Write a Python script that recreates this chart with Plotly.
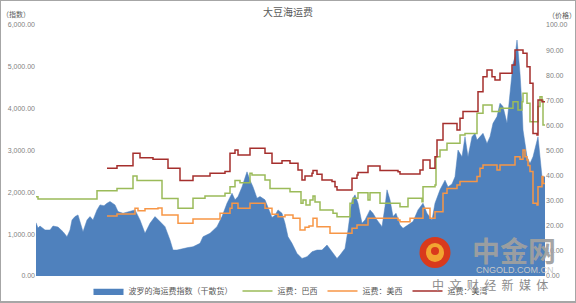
import plotly.graph_objects as go

# ---- data (x = period index) ----
bdi_x = [0, 2, 4, 9, 14, 17, 22, 27, 31, 34, 36, 39, 42, 46, 47, 51, 54, 57, 61, 64, 68, 71, 74, 79, 82, 87,
         94, 99, 104, 109, 114, 119, 124, 129, 134, 137, 141, 147, 152, 157, 164, 167, 174, 181, 186, 191, 194,
         196, 199, 202, 206, 209, 211, 214, 217, 221, 224, 229, 232, 236, 239, 242, 246, 249, 252, 256, 261,
         266, 271, 276, 281, 286, 291, 296, 301, 304, 309, 312, 316, 319, 322, 326, 329, 334, 337, 341, 346,
         349, 351, 354, 357, 360, 364, 367, 372, 377, 382, 387, 391, 396, 399, 404, 409, 412, 416, 419, 422,
         426, 429, 432, 436, 439, 441, 444, 447, 451, 454, 457, 461, 464, 467, 471, 474, 477, 479, 481, 482,
         484, 486, 487, 491, 494, 497, 501, 502, 504, 506, 509]
bdi_y = [1274, 1147, 1195, 1100, 1100, 1195, 1170, 1060, 940, 1100, 1340, 1420, 1460, 1180, 1060, 1340, 1420,
         1340, 1580, 1700, 1680, 1740, 1780, 1700, 1540, 1500, 1540, 1580, 1340, 1020, 1260, 1420, 1300, 1180,
         860, 620, 620, 660, 680, 700, 780, 940, 1020, 1180, 1420, 1740, 1900, 1980, 1820, 1900, 2130, 2370,
         2490, 2290, 2130, 1860, 1900, 1820, 1640, 1400, 1450, 1580, 1500, 1260, 940, 780, 540, 420, 460, 580,
         620, 620, 740, 580, 420, 500, 660, 1100, 1820, 1940, 1740, 1260, 1340, 1580, 1500, 1340, 1180, 1660,
         2060, 1820, 1420, 1500, 1220, 1140, 1220, 1300, 1580, 1740, 1500, 1340, 1740, 2060, 2290, 2130, 2200,
         2370, 3010, 2850, 3330, 2850, 3330, 3410, 3250, 3330, 3410, 3170, 3330, 3650, 3810, 4130, 4050, 3650,
         4290, 5080, 5240, 5640, 5400, 4840, 4050, 3490, 2850, 2690, 2850, 3250, 3330, 2850, 2370, 2370]

brazil_x = [0, 2, 61, 81, 97, 101, 126, 142, 157, 169, 189, 194, 199, 204, 214, 216, 229, 234, 254, 265, 267,
            270, 274, 277, 279, 284, 297, 301, 314, 317, 322, 332, 334, 344, 364, 372, 386, 387, 399, 400, 404,
            411, 424, 429, 441, 447, 456, 464, 477, 482, 486, 487, 491, 494, 502, 504, 506, 507, 509]
brazil_y = [31.6, 30.7, 34.0, 34.9, 39.8, 38.0, 30.9, 27.0, 31.0, 31.9, 33.0, 35.6, 38.0, 37.2, 40.9, 40.2,
            38.2, 34.9, 33.6, 29.0, 30.3, 28.3, 30.3, 31.9, 29.5, 26.3, 25.0, 23.6, 29.0, 31.0, 33.2, 30.3, 33.2,
            29.0, 27.6, 31.0, 29.6, 35.6, 36.3, 47.5, 50.2, 52.9, 56.2, 56.8, 64.8, 68.1, 65.5, 66.8, 69.4, 66.1,
            69.4, 72.8, 68.8, 61.5, 67.5, 71.4, 70.0, 60.2, 60.2]

uswest_x = [71, 81, 99, 102, 109, 122, 126, 142, 157, 184, 194, 196, 202, 214, 229, 236, 242, 249, 257, 264,
            269, 273, 277, 281, 294, 316, 321, 332, 362, 364, 374, 387, 394, 399, 407, 411, 421, 424, 441, 444,
            447, 461, 464, 479, 484, 487, 489, 491, 492, 494, 497, 501, 502, 506, 507, 509]
uswest_y = [23.9, 24.7, 27.0, 26.0, 26.8, 27.1, 24.3, 21.0, 22.7, 25.0, 27.0, 29.0, 27.0, 29.0, 27.0, 24.6,
            23.6, 24.3, 23.0, 18.3, 19.4, 19.9, 23.0, 19.6, 17.0, 19.0, 20.3, 23.0, 22.3, 21.6, 23.0, 27.0, 23.0,
            25.6, 33.0, 34.9, 36.3, 37.6, 39.6, 42.9, 44.2, 42.2, 44.2, 47.5, 46.5, 50.2, 47.5, 46.2, 44.0, 41.6,
            29.0, 28.3, 35.6, 39.6, 36.9, 36.9]

usgulf_x = [71, 81, 97, 104, 117, 132, 144, 157, 174, 189, 194, 199, 202, 214, 229, 236, 246, 254, 262, 266,
            269, 276, 277, 281, 286, 296, 299, 301, 316, 321, 322, 332, 344, 362, 364, 384, 387, 394, 399, 401,
            407, 421, 424, 427, 442, 447, 451, 456, 459, 464, 476, 479, 487, 491, 494, 497, 501, 502, 506, 509]
usgulf_y = [42.9, 43.9, 48.9, 47.1, 46.5, 42.9, 38.0, 39.8, 40.9, 41.6, 48.9, 50.2, 48.2, 50.9, 48.9, 44.9,
            45.9, 44.9, 42.2, 38.2, 39.8, 40.9, 42.0, 40.5, 38.2, 37.6, 35.6, 34.3, 38.9, 40.2, 41.2, 43.8, 42.0,
            41.5, 40.6, 42.2, 46.2, 42.9, 47.5, 54.2, 60.8, 58.2, 62.8, 65.5, 73.4, 79.4, 82.1, 79.4, 78.1, 80.8,
            84.1, 90.0, 88.7, 83.4, 76.8, 56.8, 56.2, 70.1, 69.4, 69.4]

names = ["波罗的海运费指数（干散货）", "运费：巴西", "运费：美西", "运费：美湾"]
left_ticks = [0, 1000, 2000, 3000, 4000, 5000, 6000]
right_ticks = [0, 10, 20, 30, 40, 50, 60, 70, 80, 90, 100]

CJK = "Noto Sans CJK SC"
GRAY = "#7F7F7F"

fig = go.Figure()
fig.add_trace(go.Scatter(x=bdi_x, y=bdi_y, name=names[0], mode="lines", fill="tozeroy",
                         line=dict(color="#4F81BD", width=0.5), fillcolor="#4F81BD", yaxis="y"))
fig.add_trace(go.Scatter(x=brazil_x, y=brazil_y, name=names[1], mode="lines", line_shape="hv",
                         line=dict(color="#9BBB59", width=1.5), yaxis="y2"))
fig.add_trace(go.Scatter(x=uswest_x, y=uswest_y, name=names[2], mode="lines", line_shape="hv",
                         line=dict(color="#F79646", width=1.5), yaxis="y2"))
fig.add_trace(go.Scatter(x=usgulf_x, y=usgulf_y, name=names[3], mode="lines", line_shape="hv",
                         line=dict(color="#A52F2D", width=1.5), yaxis="y2"))

W, H = 576, 303
ml, mr, mt, mb = 36, 31, 25, 27
pw, ph = W - ml - mr, H - mt - mb

def px(xp):
    return (xp - ml) / pw

def py(yp):
    return (H - mb - yp) / ph

fig.update_layout(
    width=W, height=H, margin=dict(l=ml, r=mr, t=mt, b=mb, autoexpand=False),
    paper_bgcolor="white", plot_bgcolor="white",
    showlegend=True,
    title=dict(text="大豆海运费", x=0.5, xanchor="center", y=1 - 12 / H, yanchor="middle",
               font=dict(family=CJK, size=10, color="#595959")),
    xaxis=dict(range=[0, 509], showticklabels=False, showgrid=False, zeroline=False, showline=False),
    yaxis=dict(range=[0, 6000], tickvals=left_ticks, tickformat=",.2f", showgrid=False, zeroline=False,
               showline=False, ticks="", tickfont=dict(family="Liberation Sans", size=7, color=GRAY)),
    yaxis2=dict(range=[0, 100], tickvals=right_ticks, tickformat=".2f", overlaying="y", side="right",
                showgrid=False, zeroline=False, showline=False, ticks="",
                tickfont=dict(family="Liberation Sans", size=7, color=GRAY)),
    legend=dict(orientation="h", x=0.5, xanchor="center", y=py(291), yanchor="middle",
                font=dict(family=CJK, size=8, color="#595959"), bgcolor="rgba(0,0,0,0)",
                itemwidth=30, tracegroupgap=0),
)

ann = [
    dict(text="（指数）", x=px(16), y=py(14), font=dict(family=CJK, size=7, color="#595959")),
    dict(text="（价格）", x=px(562), y=py(15), font=dict(family=CJK, size=7, color="#595959")),
    dict(text="<b>中金网</b>", x=px(514), y=py(250), font=dict(family=CJK, size=28, color="rgba(160,160,160,0.95)")),
    dict(text="CNGOLD.COM.CN", x=px(515), y=py(270), font=dict(family="Liberation Sans", size=9, color="#C8C8C8")),
    dict(text="中&nbsp;&nbsp;文&nbsp;&nbsp;财&nbsp;&nbsp;经&nbsp;&nbsp;新&nbsp;&nbsp;媒&nbsp;&nbsp;体",
         x=px(490), y=py(284), font=dict(family=CJK, size=12, color="#8C8C8C")),
]
for a in ann:
    a.update(xref="paper", yref="paper", showarrow=False, xanchor="center", yanchor="middle")
fig.update_layout(annotations=ann)

shapes = [
    dict(type="rect", xref="paper", yref="paper", x0=px(0), x1=px(W), y0=py(H - 1), y1=py(0),
         line=dict(color="#A6A6A6", width=2), fillcolor="rgba(0,0,0,0)", layer="above"),
    dict(type="circle", xref="paper", yref="paper", x0=px(419.5), x1=px(450.5), y0=py(268), y1=py(237),
         line=dict(width=0), fillcolor="#D93A1C", layer="above"),
    dict(type="circle", xref="paper", yref="paper", x0=px(426), x1=px(444), y0=py(262), y1=py(243),
         line=dict(width=0), fillcolor="#F2A531", layer="above"),
    dict(type="circle", xref="paper", yref="paper", x0=px(431), x1=px(439), y0=py(255), y1=py(247),
         line=dict(width=0), fillcolor="#D93A1C", layer="above"),
]
fig.update_layout(shapes=shapes)

fig.write_html("out.html")
